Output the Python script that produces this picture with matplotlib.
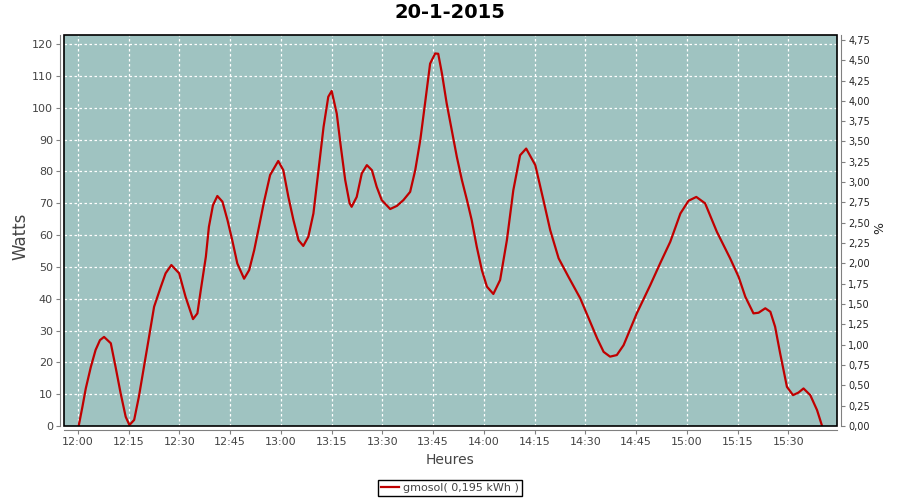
import matplotlib
matplotlib.use('Agg')
import matplotlib.pyplot as plt
from matplotlib.patches import Rectangle

# minutes after 12:00 and power in watts
minutes = [0.2, 1.3, 2.3, 3.8, 5.2, 6.5, 7.7, 9.7, 11.1, 12.6, 14.1, 15.2, 16.6, 18.0, 19.5,
           21.0, 22.5, 24.5, 25.9, 27.6, 29.9, 31.8, 34.0, 35.3, 36.3, 37.8, 38.7, 39.9,
           41.2, 42.7, 44.2, 45.6, 47.1, 49.1, 50.6, 52.1, 53.5, 55.0, 56.8, 59.2, 60.7,
           62.2, 63.7, 65.2, 66.6, 68.1, 69.6, 71.1, 72.6, 74.0, 75.0, 76.5, 77.7, 79.0,
           80.3, 80.9, 82.4, 83.9, 85.4, 86.9, 88.3, 89.8, 92.3, 94.3, 96.2, 98.2, 99.7,
           101.2, 102.6, 104.1, 105.6, 106.5, 107.6, 109.0, 110.5, 112.0, 113.5, 115.0,
           116.4, 117.9, 119.4, 120.9, 122.8, 124.8, 126.8, 128.7, 130.7, 132.5, 135.2,
           137.6, 139.6, 142.1, 145.0, 148.5, 151.0, 153.5, 155.4, 157.3, 159.3, 161.3,
           165.2, 169.2, 172.1, 175.1, 178.1, 180.5, 182.8, 185.4, 188.9, 192.8, 195.3,
           197.3, 199.7, 201.2, 203.2, 204.7, 206.1, 207.6, 209.6, 211.4, 213.0, 214.5,
           216.5, 218.5, 219.9]
watts = [0, 6, 11.8, 18.6, 23.9, 27, 28, 26, 18.6, 10.3, 2.9, 0.3, 1.9, 9.2, 18.6,
         28, 37.5, 43.8, 48, 50.6, 48, 40.6, 33.6, 35.4, 42.7, 53.2, 62.6, 69.4,
         72.3, 70.5, 64.7, 58.4, 51.1, 46.3, 49, 55.3, 62.6, 70.5, 78.9, 83.3, 80.4,
         72, 64.7, 58.4, 56.6, 59.5, 66.8, 80.4, 94, 103.5, 105.3, 98.2, 87.8, 77.3,
         70, 68.9, 72, 79.4, 82, 80.4, 75.2, 71, 68.2, 69.2, 71, 73.6, 80.4,
         89.9, 101.4, 113.9, 117.1, 117, 110.8, 101.4, 93, 84.6, 77.3, 71,
         64.7, 56.3, 49, 43.8, 41.5, 45.9, 58.4, 74.1, 85.1, 87.2, 82,
         71, 61.6, 52.7, 46.9, 40.1, 33.8, 27.5, 23.3, 21.8, 22.3, 25.4,
         35.4, 44.3, 51.1, 57.9, 66.8, 70.8, 72, 70, 61, 52.7, 46.9,
         40.6, 35.4, 35.6, 37, 35.9, 31.2, 22.8, 12.3, 9.7, 10.5, 11.8,
         9.7, 5, 0.3]

tick_minutes = list(range(0, 211, 15))
tick_labels = ['%d:%02d' % (12 + m // 60, m % 60) for m in tick_minutes]
watt_ticks = list(range(0, 121, 10))
pct_ticks = [i * 0.25 for i in range(20)]
pct_labels = [('%.2f' % p).replace('.', ',') for p in pct_ticks]

title = '20-1-2015'
legend_label = 'gmosol( 0,195 kWh )'

fig = plt.figure(figsize=(9, 5), dpi=100)
ax = fig.add_axes([64 / 900, 74 / 500, 773 / 900, 391 / 500])
ax.set_facecolor('#9fc3c1')

ax.plot(minutes, watts, color='#c00000', linewidth=1.6, label=legend_label)

ax.set_xlim(-4.14, 224.4)
ax.set_ylim(0, 122.9)
ax.set_xticks(tick_minutes)
ax.set_xticklabels(tick_labels)
ax.set_yticks(watt_ticks)
ax.grid(True, color='white', linestyle=(0, (2, 2)), linewidth=0.9)

for s in ['top', 'right']:
    ax.spines[s].set_visible(False)
for s in ['left', 'bottom']:
    ax.spines[s].set_position(('outward', 3))
    ax.spines[s].set_color('#808080')
ax.tick_params(axis='both', colors='#808080', labelcolor='#444444', labelsize=8,
               length=3, direction='out', pad=2)

# black plot outline
ax.add_patch(Rectangle((0, 0), 1, 1, transform=ax.transAxes, fill=False,
                       edgecolor='black', linewidth=1.2, clip_on=False, zorder=5))

ax2 = ax.twinx()
ax2.set_ylim(0, 4.81)
ax2.set_yticks(pct_ticks)
ax2.set_yticklabels(pct_labels)
for s in ['top', 'left', 'bottom']:
    ax2.spines[s].set_visible(False)
ax2.spines['right'].set_position(('outward', 3))
ax2.spines['right'].set_color('#808080')
ax2.tick_params(axis='y', colors='#808080', labelcolor='#222222', labelsize=7,
                length=3, direction='out', pad=2)

fig.text(0.5, 1 - 13 / 500, title, ha='center', va='center', fontsize=14, fontweight='bold')
fig.text(20 / 900, 1 - 236 / 500, 'Watts', rotation=90, ha='center', va='center',
         fontsize=12, color='#444444')
fig.text(880 / 900, 1 - 228 / 500, '%', rotation=90, ha='center', va='center',
         fontsize=9, color='#222222')
fig.text(0.5, 1 - 460 / 500, 'Heures', ha='center', va='center', fontsize=10, color='#444444')

leg = fig.legend(loc='center', bbox_to_anchor=(0.5, 1 - 488 / 500), fontsize=8,
                 fancybox=False, edgecolor='black', framealpha=1, handlelength=1.6,
                 borderpad=0.3, handletextpad=0.4, labelcolor='#444444')
leg.get_frame().set_linewidth(1)

plt.savefig('out.png', dpi=100)
